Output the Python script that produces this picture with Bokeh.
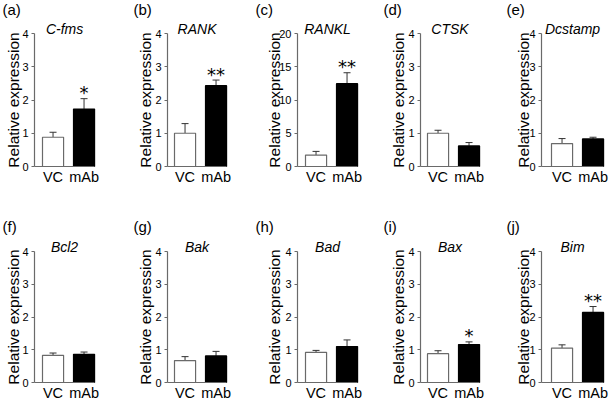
import math
from bokeh.plotting import figure
from bokeh.models import Range1d, FixedTicker, Label, Whisker, TeeHead, ColumnDataSource
from bokeh.layouts import column, row
from bokeh.embed import file_html
from bokeh.resources import INLINE
from bokeh.core.properties import value

# ---------------- data ----------------
genes = ["C-fms", "RANK", "RANKL", "CTSK", "Dcstamp", "Bcl2", "Bak", "Bad", "Bax", "Bim"]
panel_letters = ["(a)", "(b)", "(c)", "(d)", "(e)", "(f)", "(g)", "(h)", "(i)", "(j)"]
groups = ["VC", "mAb"]
vc_mean = [0.88, 1.00, 1.72, 1.00, 0.69, 0.83, 0.67, 0.92, 0.88, 1.05]
vc_err = [0.15, 0.29, 0.55, 0.09, 0.15, 0.07, 0.12, 0.06, 0.09, 0.10]
mab_mean = [1.73, 2.43, 12.46, 0.62, 0.83, 0.86, 0.81, 1.10, 1.16, 2.14]
mab_err = [0.31, 0.17, 1.64, 0.10, 0.05, 0.07, 0.14, 0.20, 0.08, 0.18]
signif = ["*", "**", "**", "", "", "", "", "", "*", "**"]
y_max = [4, 4, 20, 4, 4, 4, 4, 4, 4, 4]
y_ticks = [[0, 1, 2, 3, 4], [0, 1, 2, 3, 4], [0, 5, 10, 15, 20], [0, 1, 2, 3, 4], [0, 1, 2, 3, 4],
           [0, 1, 2, 3, 4], [0, 1, 2, 3, 4], [0, 1, 2, 3, 4], [0, 1, 2, 3, 4], [0, 1, 2, 3, 4]]
y_label = "Relative expression"

# ---------------- layout constants (pixels) ----------------
FONT = "Liberation Sans"
GRAY = "#6a6a6a"
UNIT = 31.0          # px per category step
BAR_W = 0.68         # in category units
col_left = [0, 112, 242, 367, 492]     # page x of each figure
col_width = [112, 130, 125, 125, 117]
col_axis = [34, 167, 297, 420, 541]    # page x of y-axis line
col_pad = [8, 7, 8, 7, 10]             # gap axis -> first bar
letter_dx = [-32, -34, -42, -37, -35]
ylabel_dx = [-21, -22, -23, -22, -18]
row_top = [0, 205]
row_height = [205, 196]
row_zero = [166, 382]                  # page y of value 0
row_axis_px = [133, 131]               # px from 0 to y_max
row_letter_up = [33, 34]
row_title_up = [5, 4.5]


def make_panel(i):
    r, c = divmod(i, 5)
    ppu = row_axis_px[r] / y_max[i]
    y_end = (row_zero[r] - row_top[r]) / ppu
    y_start = -(row_top[r] + row_height[r] - row_zero[r]) / ppu

    first_center = col_axis[c] + col_pad[c] + BAR_W * UNIT / 2
    x_start = 1 - (first_center - col_left[c]) / UNIT
    x_end = x_start + col_width[c] / UNIT
    xa = 1 - (col_pad[c] + BAR_W * UNIT / 2) / UNIT   # y-axis position (data)
    x_right = 2 + BAR_W / 2

    p = figure(width=col_width[c], height=row_height[r],
               x_range=Range1d(x_start, x_end), y_range=Range1d(y_start, y_end),
               output_backend="svg", toolbar_location=None,
               min_border_left=0, min_border_right=0, min_border_top=0, min_border_bottom=0)
    p.title = None
    p.outline_line_color = None
    p.xgrid.visible = False
    p.ygrid.visible = False
    p.background_fill_color = "white"
    p.border_fill_color = "white"

    # x axis (baseline at value 0)
    xax = p.xaxis[0]
    xax.fixed_location = 0
    xax.bounds = (xa, x_right)
    xax.ticker = FixedTicker(ticks=[1, 2], minor_ticks=[])
    xax.major_label_overrides = {1: groups[0], 2: groups[1]}
    xax.major_tick_line_color = None
    xax.minor_tick_line_color = None
    xax.axis_line_color = GRAY
    xax.axis_line_width = 1.2
    xax.major_label_text_font = FONT
    xax.major_label_text_font_size = "14.5px"
    xax.major_label_text_color = "black"
    xax.major_label_standoff = 2
    xax.major_tick_out = 0
    xax.major_tick_in = 0

    # y axis
    yax = p.yaxis[0]
    yax.fixed_location = xa
    yax.bounds = (0, y_max[i])
    yax.ticker = FixedTicker(ticks=y_ticks[i], minor_ticks=[])
    yax.axis_line_color = GRAY
    yax.axis_line_width = 1.2
    yax.major_tick_line_color = GRAY
    yax.minor_tick_line_color = None
    yax.major_tick_out = 3
    yax.major_tick_in = 0
    yax.major_label_standoff = 3
    yax.major_label_text_font = FONT
    yax.major_label_text_font_size = "11px"
    yax.major_label_text_color = "black"

    # bars
    src = ColumnDataSource(dict(
        x=[1, 2],
        top=[vc_mean[i], mab_mean[i]],
        upper=[vc_mean[i] + vc_err[i], mab_mean[i] + mab_err[i]],
        fill=["white", "black"],
        line=[GRAY, "black"],
    ))
    p.vbar(x="x", top="top", bottom=0, width=BAR_W, fill_color="fill",
           line_color="line", line_width=1.2, source=src)
    p.add_layout(Whisker(base="x", lower="top", upper="upper", source=src,
                         dimension="height", line_color="#333333", line_width=1,
                         lower_head=None,
                         upper_head=TeeHead(size=7, line_color="#333333", line_width=1)))

    # significance stars
    if signif[i]:
        ssrc = ColumnDataSource(dict(x=[2], y=[mab_mean[i] + mab_err[i]], t=[signif[i]]))
        p.text(x="x", y="y", text="t", source=ssrc, text_align="center",
               text_baseline="alphabetic", y_offset=-6,
               text_font=value("DejaVu Sans"), text_font_size="18px", text_color="black")

    # gene title (italic)
    p.add_layout(Label(x=(xa + x_right) / 2, y=y_max[i], y_offset=row_title_up[r], text=genes[i],
                       text_align="center", text_baseline="alphabetic",
                       text_font=FONT, text_font_style="italic", text_font_size="14px",
                       text_color="black"))
    # panel letter
    p.add_layout(Label(x=xa, y=y_max[i], x_offset=letter_dx[c], y_offset=row_letter_up[r],
                       text=panel_letters[i], text_align="left", text_baseline="top",
                       text_font=FONT, text_font_size="15px", text_color="black"))
    # y axis label
    p.add_layout(Label(x=xa, y=y_max[i] / 2, x_offset=ylabel_dx[c], text=y_label,
                       angle=math.pi / 2, text_align="center", text_baseline="alphabetic",
                       text_font=FONT, text_font_size="15.5px", text_color="black"))
    return p


figs = [make_panel(i) for i in range(10)]
layout = column(row(*figs[:5]), row(*figs[5:]))

open("out.html", "w").write(file_html(layout, INLINE))
